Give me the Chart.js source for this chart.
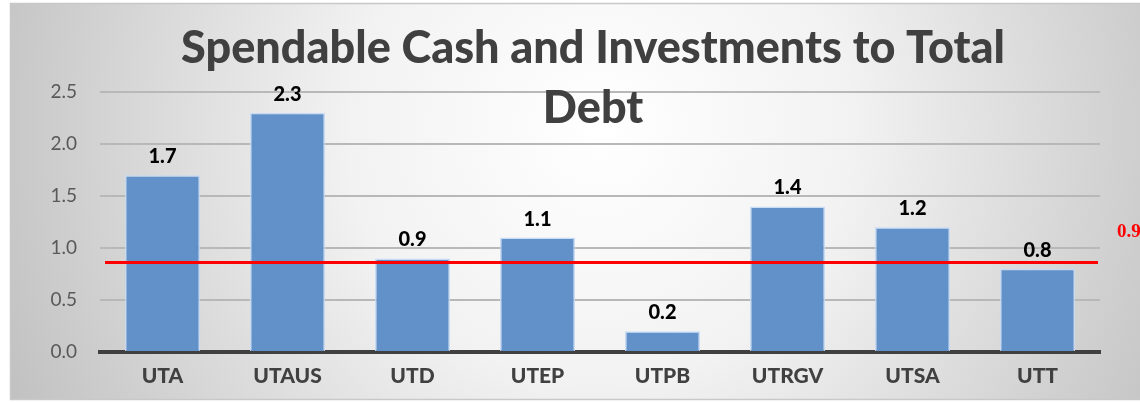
<!DOCTYPE html>
<html><head><meta charset="utf-8">
<script src="https://cdn.jsdelivr.net/npm/chart.js@4"></script>
<style>html,body{margin:0;padding:0;background:#fff}#wrap{width:1140px;height:403px}</style>
</head><body><div id="wrap"><canvas id="c" width="1140" height="403"></canvas></div>
<script>
const categories = ["UTA","UTAUS","UTD","UTEP","UTPB","UTRGV","UTSA","UTT"];
const ratios = [1.7,2.3,0.9,1.1,0.2,1.4,1.2,0.8];
const threshold = 0.86;
const thresholdLabel = "0.9";
const yTicks = [0,0.5,1.0,1.5,2.0,2.5];
const titleLines = ["Spendable Cash and Investments to Total","Debt"];

const bgPlugin = {
  id:'bg',
  beforeDraw(chart){
    const ctx = chart.ctx;
    ctx.save();
    ctx.fillStyle='#fff';ctx.fillRect(0,0,1140,403);
    const g = ctx.createRadialGradient(600,130,0,600,130,720);
    g.addColorStop(0,'#ffffff');
    g.addColorStop(0.35,'#f2f2f2');
    g.addColorStop(1,'#b8b8b8');
    ctx.fillStyle=g;
    ctx.fillRect(10,3,1135,397);
    ctx.strokeStyle='#c8c8c8';ctx.lineWidth=1.5;
    ctx.strokeRect(10.5,3.5,1140,396);
    ctx.restore();
  },
  afterDatasetsDraw(chart){
    const ctx=chart.ctx, y=chart.scales.y, a=chart.chartArea;
    ctx.save();
    ctx.fillStyle='#000';ctx.font='900 20px Lato';ctx.textAlign='center';ctx.textBaseline='alphabetic';
    const meta=chart.getDatasetMeta(0);
    meta.data.forEach((b,i)=>{ctx.fillText(ratios[i].toFixed(1),b.x,b.y-12);});
    const ty=y.getPixelForValue(threshold);
    ctx.strokeStyle='#ff0000';ctx.lineWidth=3;
    ctx.beginPath();ctx.moveTo(a.left+5,ty);ctx.lineTo(a.right-2,ty);ctx.stroke();
    ctx.fillStyle='#ff0000';ctx.font='bold 19px "Liberation Serif"';ctx.textAlign='left';ctx.textBaseline='alphabetic';
    ctx.fillText(thresholdLabel,1117,237);
    ctx.fillStyle='#404040';ctx.font='900 45px Lato';ctx.textAlign='center';
    ctx.fillText(titleLines[0],593,63);
    ctx.fillText(titleLines[1],593,123);
    ctx.restore();
  }
};

new Chart(document.getElementById('c'),{
  type:'bar',
  data:{labels:categories,datasets:[{data:ratios,backgroundColor:'#6290c8',borderColor:'rgba(195,218,245,0.9)',borderWidth:1.5,categoryPercentage:1,barPercentage:0.6}]},
  options:{
    responsive:false,animation:false,
    layout:{padding:{left:0,right:40,top:92,bottom:0}},
    plugins:{legend:{display:false},title:{display:false},tooltip:{enabled:false}},
    scales:{
      x:{grid:{display:false,drawTicks:false},border:{display:true,color:'#404040',width:4},
        ticks:{color:'#404040',font:{family:'Lato',size:21,weight:'900'},padding:12},
        afterFit(s){s.height=51;}},
      y:{min:0,max:2.5,afterBuildTicks(s){s.ticks=yTicks.map(v=>({value:v}));},
        grid:{color:'#b8b8b8',lineWidth:2,drawTicks:false},border:{display:false},
        ticks:{color:'#595959',font:{family:'Lato',size:19},padding:23,callback:v=>v.toFixed(1)},
        afterFit(s){s.width=100;}}
    }
  },
  plugins:[bgPlugin]
});
</script></body></html>
